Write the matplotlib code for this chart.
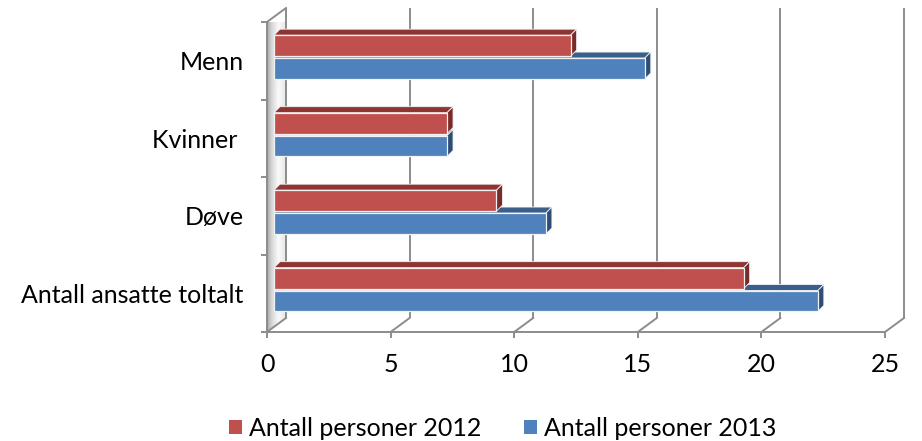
import numpy as np
import matplotlib
matplotlib.use("Agg")
import matplotlib.pyplot as plt
from matplotlib.patches import Polygon, Patch

plt.rcParams['font.family'] = ['Lato', 'DejaVu Sans']

categories = ["Antall ansatte toltalt", "Døve", "Kvinner ", "Menn"]
series_names = ["Antall personer 2012", "Antall personer 2013"]
values_2012 = [19, 9, 7, 12]
values_2013 = [22, 11, 7, 15]
x_ticks = [0, 5, 10, 15, 20, 25]

red_front, red_top, red_side = "#C0504D", "#8E3533", "#7A2B29"
blue_front, blue_top, blue_side = "#4F81BD", "#3A5F8C", "#2D4D74"
grid_col = "#8C8C8C"

W, H, DPI = 922, 441, 100
fig = plt.figure(figsize=(W / DPI, H / DPI), dpi=DPI)
ax_l, ax_b, ax_w, ax_h = 267, 109, 618, 310
ax = fig.add_axes([ax_l / W, ax_b / H, ax_w / W, ax_h / H])
xmax, nc = 25, len(categories)

ux = ax_w / xmax   # pixels per value unit
uy = ax_h / nc     # pixels per category unit

# depth of the box (back wall) and of the bars, in pixels -> data units
wall_dx, wall_dy = 19 / ux, 14 / uy
bar_off_x, bar_off_y = 7 / ux, 0.0
bar_dx, bar_dy = 6 / ux, 6 / uy

# left wall with a soft grey gradient
wall = Polygon([(0, 0), (0, nc), (wall_dx, nc + wall_dy), (wall_dx, wall_dy)],
               closed=True, facecolor="none", edgecolor="none")
ax.add_patch(wall)
grad = np.linspace(0, 1, 64)
shade = np.interp(grad, [0, 0.25, 0.6, 1.0], [0.66, 0.84, 0.98, 0.90])
img = ax.imshow(np.tile(shade, (2, 1)), cmap="gray", vmin=0, vmax=1,
                extent=[0, wall_dx, 0, nc + wall_dy], aspect="auto",
                zorder=0.5, interpolation="bilinear")
img.set_clip_path(wall)
ax.set_xlim(0, xmax)
ax.set_ylim(0, nc)

# back-wall gridlines and floor diagonals
for v in x_ticks:
    ax.plot([v + wall_dx, v + wall_dx], [wall_dy, nc + wall_dy], color=grid_col,
            lw=1.4, clip_on=False, zorder=1, solid_capstyle="butt")
    ax.plot([v, v + wall_dx], [0, wall_dy], color=grid_col, lw=1.4,
            clip_on=False, zorder=1)
ax.plot([0, wall_dx], [nc, nc + wall_dy], color=grid_col, lw=1.4,
        clip_on=False, zorder=1)

bar_h = 0.27
centers = np.arange(nc) + 0.5


def draw_bar(left, y0, width, front, top, side, z):
    x1 = left + width
    y1 = y0 + bar_h
    top_face = Polygon([(left, y1), (x1, y1), (x1 + bar_dx, y1 + bar_dy),
                        (left + bar_dx, y1 + bar_dy)], closed=True,
                       facecolor=top, edgecolor="#F2F2F2", lw=0.6,
                       zorder=z, clip_on=False)
    side_face = Polygon([(x1, y0), (x1 + bar_dx, y0 + bar_dy),
                         (x1 + bar_dx, y1 + bar_dy), (x1, y1)], closed=True,
                        facecolor=side, edgecolor="#F2F2F2", lw=0.6,
                        zorder=z, clip_on=False)
    ax.add_patch(top_face)
    ax.add_patch(side_face)
    ax.barh(y0 + bar_h / 2, width, height=bar_h, left=left, color=front,
            edgecolor="#F2F2F2", linewidth=0.9, zorder=z + 0.1, clip_on=False)


for i in range(nc):
    c = centers[i] + bar_off_y
    draw_bar(bar_off_x, c - 0.235, values_2013[i], blue_front, blue_top,
             blue_side, 2 + i * 0.01)
    draw_bar(bar_off_x, c + 0.06, values_2012[i], red_front, red_top,
             red_side, 3 + i * 0.01)

# axes, ticks and labels
for s in ["top", "right"]:
    ax.spines[s].set_visible(False)
for s in ["left", "bottom"]:
    ax.spines[s].set_color(grid_col)
    ax.spines[s].set_linewidth(1.4)
ax.set_facecolor("none")
ax.set_xticks(x_ticks)
ax.set_xticklabels([str(v) for v in x_ticks])
ax.tick_params(axis="x", direction="out", length=4, width=1.4, color=grid_col,
               labelsize=18, pad=11, labelcolor="black")
ax.set_yticks(centers)
ax.set_yticklabels(categories)
ax.set_yticks(np.arange(nc + 1), minor=True)
ax.tick_params(axis="y", which="major", length=0, labelsize=18, pad=17,
               labelcolor="black")
ax.tick_params(axis="y", which="minor", direction="out", length=4, width=1.4,
               color=grid_col)

handles = [Patch(facecolor=red_front, edgecolor="none"),
           Patch(facecolor=blue_front, edgecolor="none")]
fig.legend(handles, series_names, loc="center", bbox_to_anchor=(503 / W, 1 - 428 / H),
           ncol=2, frameon=False, fontsize=18, handlelength=0.5, handleheight=0.5,
           handletextpad=0.3, columnspacing=1.7)

fig.savefig("out.png", dpi=DPI)
